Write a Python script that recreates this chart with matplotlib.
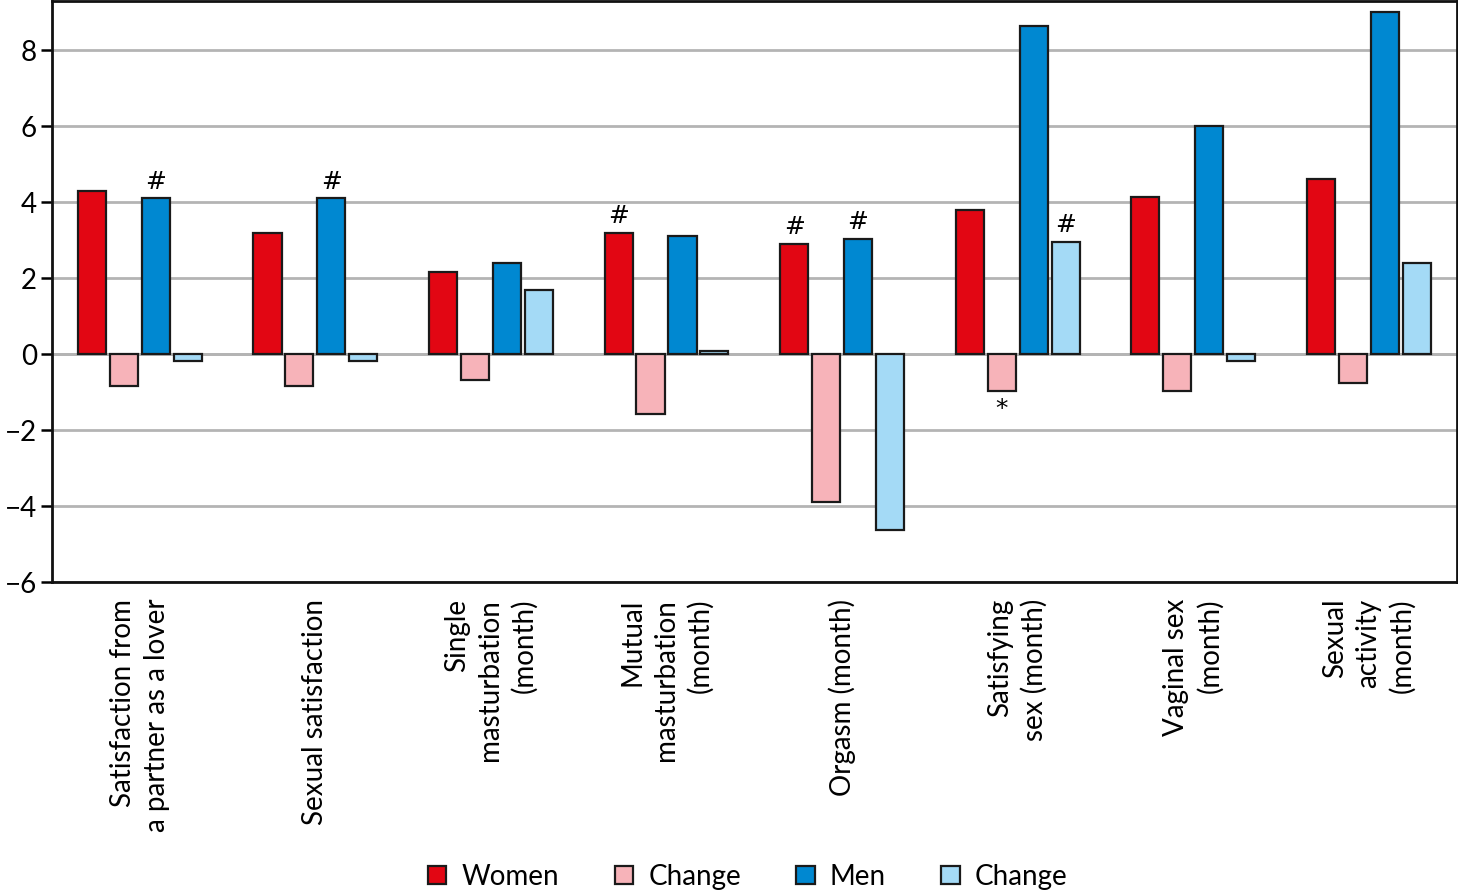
import numpy as np
import matplotlib.pyplot as plt
from matplotlib.patches import Patch

# ---------------------------------
# Data
# ---------------------------------

categories = [
    "Satisfaction from\na partner as a lover",
    "Sexual satisfaction",
    "Single\nmasturbation\n(month)",
    "Mutual\nmasturbation\n(month)",
    "Orgasm (month)",
    "Satisfying\nsex (month)",
    "Vaginal sex\n(month)",
    "Sexual\nactivity\n(month)",
]

women = [4.3, 3.2, 2.15, 3.2, 2.9, 3.8, 4.15, 4.6]
women_change = [-0.85, -0.85, -0.68, -1.58, -3.88, -0.98, -0.98, -0.77]
men = [4.1, 4.1, 2.4, 3.1, 3.03, 8.63, 6.0, 9.02]
men_change = [-0.18, -0.18, 1.7, 0.08, -4.64, 2.96, -0.18, 2.4]

series_names = ["Women", "Change", "Men", "Change"]

# marks: (category index, series index, symbol)
marks = [
    (0, 2, "#"), (1, 2, "#"), (3, 0, "#"), (4, 0, "#"),
    (4, 2, "#"), (5, 3, "#"), (5, 1, "*"),
]

# ---------------------------------
# Style
# ---------------------------------

plt.rcParams["font.family"] = ["Lato", "DejaVu Sans"]

colors = ["#e20613", "#f7b3b9", "#0088d1", "#a4daf6"]
bar_w = 0.16
step = 0.182

fig = plt.figure(figsize=(14.58, 8.92), dpi=100)
ax = fig.add_axes([0.0357, 0.3475, 0.9633, 0.6515])

x = np.arange(len(categories))
all_series = [women, women_change, men, men_change]

for i, vals in enumerate(all_series):
    ax.bar(x + (i - 1.5) * step, vals, width=bar_w, color=colors[i],
           edgecolor="#1a1a1a", linewidth=1.6, zorder=3)

for ci, si, sym in marks:
    v = all_series[si][ci]
    xp = x[ci] + (si - 1.5) * step
    if v >= 0:
        ax.text(xp, v + 0.12, sym, ha="center", va="bottom", fontsize=18,
                family="DejaVu Sans")
    else:
        ax.text(xp, v - 0.15, sym, ha="center", va="top", fontsize=18,
                family="DejaVu Sans")

ax.set_xlim(-0.5, len(categories) - 0.5)
ax.set_ylim(-6, 9.3)
ax.set_yticks(np.arange(-6, 9, 2))
ax.set_yticklabels([str(t).replace("-", "\u2212") for t in range(-6, 9, 2)])
ax.grid(axis="y", color="#b4b4b4", linewidth=2, zorder=0)
ax.axhline(0, color="#b4b4b4", linewidth=2, zorder=1)

ax.set_xticks(x)
ax.set_xticklabels(categories, rotation=90, ha="center", va="top",
                   multialignment="right", fontsize=20, linespacing=1.35)
for lab in ax.get_xticklabels():
    lab.set_x(lab.get_position()[0])
ax.tick_params(axis="x", length=0, pad=12)
ax.tick_params(axis="y", labelsize=20, length=8, width=1.8, direction="out",
               pad=3)

for s in ax.spines.values():
    s.set_linewidth(2)
    s.set_color("#111111")

handles = [Patch(facecolor=c, edgecolor="#1a1a1a", linewidth=1.6) for c in colors]
fig.legend(handles, series_names, loc="center", bbox_to_anchor=(0.513, 0.017),
           ncol=4, frameon=False, fontsize=20, handlelength=0.65,
           handleheight=0.65, handletextpad=0.55, columnspacing=2.0)

fig.savefig("out.png", dpi=100)
